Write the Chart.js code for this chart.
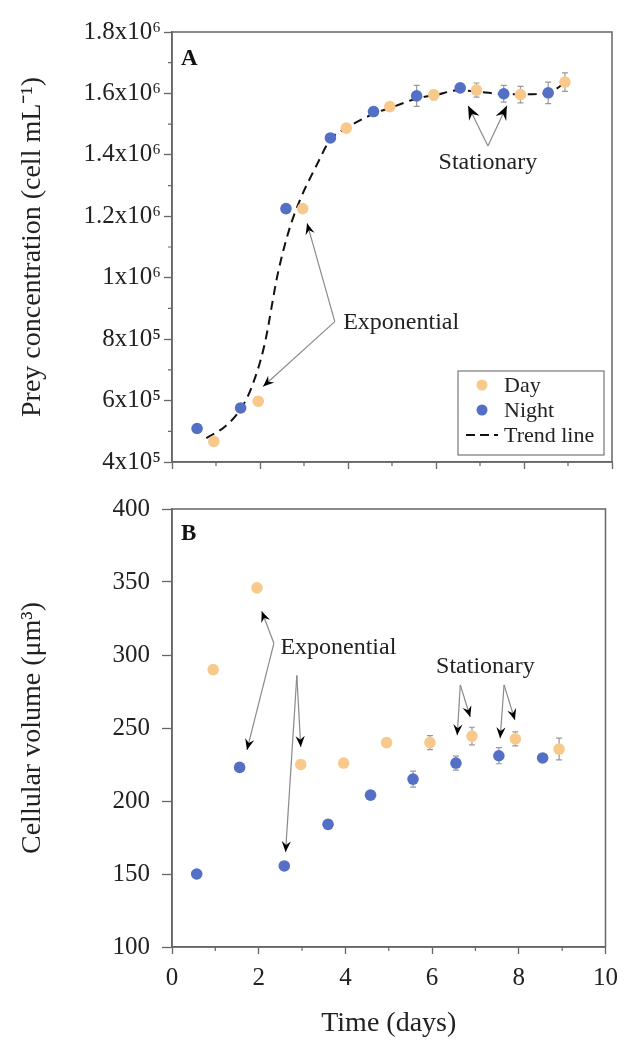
<!DOCTYPE html>
<html>
<head>
<meta charset="utf-8">
<script src="https://cdn.jsdelivr.net/npm/chart.js@4.4.0/dist/chart.umd.min.js"></script>
<style>
  html, body { margin: 0; padding: 0; background: #fff; }
  #wrap { position: relative; width: 627px; height: 1040px; }
  canvas { position: absolute; left: 0; }
  #chartA { top: 0; }
  #chartB { top: 480px; }
</style>
</head>
<body>
<div id="wrap">
  <canvas id="chartA" width="627" height="480"></canvas>
  <canvas id="chartB" width="627" height="560"></canvas>
</div>
<script>
// ---- data (time in days) ----
const dayTime   = [0.95, 1.96, 2.97, 3.96, 4.95, 5.95, 6.92, 7.92, 8.93];
const nightTime = [0.57, 1.56, 2.59, 3.60, 4.58, 5.56, 6.55, 7.54, 8.55];

// panel A: prey concentration (cell mL-1)
const preyDay      = [4.67e5, 5.98e5, 1.225e6, 1.487e6, 1.557e6, 1.595e6, 1.611e6, 1.596e6, 1.637e6];
const preyDayErr   = [0, 0, 0, 0, 0, 1.5e4, 2.3e4, 2.7e4, 3.0e4];
const preyNight    = [5.09e5, 5.76e5, 1.225e6, 1.455e6, 1.541e6, 1.592e6, 1.618e6, 1.599e6, 1.602e6];
const preyNightErr = [0, 0, 0, 0, 0, 3.4e4, 5e3, 2.7e4, 3.5e4];

// trend line
const trendTime = [0.78, 1.2, 1.55, 1.8, 2.1, 2.4, 2.65, 2.9, 3.3, 3.6, 4.0, 4.6, 5.0, 5.6, 6.0, 6.5, 7.0, 7.5, 8.0, 8.55, 8.95];
const trendPrey = [4.78e5, 5.15e5, 5.7e5, 6.4e5, 7.8e5, 1.01e6, 1.15e6, 1.25e6, 1.37e6, 1.45e6, 1.49e6, 1.535e6, 1.555e6, 1.585e6, 1.595e6, 1.61e6, 1.605e6, 1.598e6, 1.597e6, 1.602e6, 1.637e6];

// panel B: cellular volume (um3)
const volDay      = [290, 346, 225, 226, 240, 240, 244.5, 242.5, 235.6];
const volDayErr   = [0, 0, 0, 0, 2, 4.8, 6, 4.8, 7.5];
const volNight    = [150, 223, 155.5, 184, 204, 215, 226, 231, 229.5];
const volNightErr = [0, 0, 0, 0, 0, 5.5, 4.8, 5.5, 2];

// tick labels
const timeTicks = ["0", "2", "4", "6", "8", "10"];
const preyTicks = ["4x10\u2075", "6x10\u2075", "8x10\u2075", "1x10\u2076", "1.2x10\u2076", "1.4x10\u2076", "1.6x10\u2076", "1.8x10\u2076"];
const volTicks  = ["100", "150", "200", "250", "300", "350", "400"];

const DAY = "#F8C98A";
const NIGHT = "#5470C6";
const AXIS = "#666";
const INK = "#222";
const SERIF = "'Liberation Serif', 'Times New Roman', serif";

const pts = (xs, ys) => xs.map((x, i) => ({ x: x, y: ys[i] }));

// annotation text + arrows, in data units
const notesA = {
  letter: { text: "A", dx: 9, dy: 33 },
  labels: [
    { text: "Exponential", x: 3.89, y: 8.54e5, align: "left" },
    { text: "Stationary", x: 7.18, y: 1.375e6, align: "center" }
  ],
  arrows: [
    [3.7, 8.57e5, 3.07, 1.177e6, 11],
    [3.7, 8.57e5, 2.07, 6.46e5, 11],
    [7.18, 1.429e6, 6.73, 1.56e6, 14],
    [7.18, 1.429e6, 7.61, 1.56e6, 14]
  ]
};
const notesB = {
  letter: { text: "B", dx: 9, dy: 31 },
  labels: [
    { text: "Exponential", x: 2.5, y: 305, align: "left" },
    { text: "Stationary", x: 7.23, y: 292, align: "center" }
  ],
  arrows: [
    [2.35, 308, 2.07, 330, 11],
    [2.35, 308, 1.73, 235, 11],
    [2.88, 286, 2.97, 237, 11],
    [2.88, 286, 2.62, 165, 11],
    [6.65, 279.5, 6.58, 245, 11],
    [6.65, 279.5, 6.88, 257.5, 11],
    [7.66, 279.5, 7.57, 243, 11],
    [7.66, 279.5, 7.91, 255.5, 11]
  ]
};

function arrowHead(ctx, x1, y1, x2, y2, len) {
  const ang = Math.atan2(y2 - y1, x2 - x1);
  const half = len * 0.42;
  ctx.save();
  ctx.translate(x2, y2);
  ctx.rotate(ang);
  ctx.beginPath();
  ctx.moveTo(0, 0);
  ctx.lineTo(-len, -half);
  ctx.lineTo(-len * 0.65, 0);
  ctx.lineTo(-len, half);
  ctx.closePath();
  ctx.fillStyle = "#000";
  ctx.fill();
  ctx.restore();
}

const extras = {
  id: "extras",
  beforeDatasetsDraw(chart, args, opts) {
    const { ctx, scales: { x, y } } = chart;
    ctx.save();
    ctx.strokeStyle = "#999";
    ctx.lineWidth = 1.2;
    opts.errors.forEach(s => {
      s.x.forEach((xv, i) => {
        const e = s.err[i];
        if (!e) return;
        const px = x.getPixelForValue(xv);
        const y1 = y.getPixelForValue(s.y[i] + e);
        const y2 = y.getPixelForValue(s.y[i] - e);
        ctx.beginPath();
        ctx.moveTo(px, y1); ctx.lineTo(px, y2);
        ctx.moveTo(px - 3, y1); ctx.lineTo(px + 3, y1);
        ctx.moveTo(px - 3, y2); ctx.lineTo(px + 3, y2);
        ctx.stroke();
      });
    });
    ctx.restore();
  },
  afterDraw(chart, args, opts) {
    const { ctx, chartArea: a, scales: { x, y } } = chart;
    ctx.save();

    // frame
    ctx.strokeStyle = AXIS;
    ctx.lineWidth = 1.5;
    ctx.strokeRect(a.left, a.top, a.right - a.left, a.bottom - a.top);

    // minor ticks halfway between major ones
    ctx.lineWidth = 1.2;
    ctx.beginPath();
    for (let i = 0; i < x.ticks.length - 1; i++) {
      const px = x.getPixelForValue((x.ticks[i].value + x.ticks[i + 1].value) / 2);
      ctx.moveTo(px, a.bottom); ctx.lineTo(px, a.bottom + 4);
    }
    if (opts.minorY) {
      for (let i = 0; i < y.ticks.length - 1; i++) {
        const py = y.getPixelForValue((y.ticks[i].value + y.ticks[i + 1].value) / 2);
        ctx.moveTo(a.left - 4, py); ctx.lineTo(a.left, py);
      }
    }
    ctx.stroke();

    const n = opts.notes;
    // panel letter
    ctx.fillStyle = "#111";
    ctx.font = "bold 23px " + SERIF;
    ctx.textAlign = "left";
    ctx.textBaseline = "alphabetic";
    ctx.fillText(n.letter.text, a.left + n.letter.dx, a.top + n.letter.dy);

    // arrows
    ctx.strokeStyle = "#8a8a8a";
    ctx.lineWidth = 1.2;
    n.arrows.forEach(ar => {
      const x1 = x.getPixelForValue(ar[0]), y1 = y.getPixelForValue(ar[1]);
      const x2 = x.getPixelForValue(ar[2]), y2 = y.getPixelForValue(ar[3]);
      ctx.beginPath();
      ctx.moveTo(x1, y1); ctx.lineTo(x2, y2);
      ctx.stroke();
      arrowHead(ctx, x1, y1, x2, y2, ar[4]);
    });

    // labels
    ctx.fillStyle = INK;
    ctx.font = "24px " + SERIF;
    ctx.textBaseline = "middle";
    n.labels.forEach(l => {
      ctx.textAlign = l.align;
      ctx.fillText(l.text, x.getPixelForValue(l.x), y.getPixelForValue(l.y));
    });

    // legend box
    if (opts.legend) {
      const w = 146, h = 84;
      const bx = a.right - 8 - w, by = a.bottom - 7 - h;
      ctx.fillStyle = "#fff";
      ctx.fillRect(bx, by, w, h);
      ctx.strokeStyle = "#777";
      ctx.lineWidth = 1.2;
      ctx.strokeRect(bx, by, w, h);
      ctx.font = "22px " + SERIF;
      ctx.textAlign = "left";
      ctx.textBaseline = "middle";
      chart.data.datasets.forEach((ds, i) => {
        const cy = by + 14 + i * 25;
        if (ds.showLine) {
          ctx.save();
          ctx.strokeStyle = "#111";
          ctx.lineWidth = 2;
          ctx.setLineDash([9, 5]);
          ctx.beginPath();
          ctx.moveTo(bx + 8, cy); ctx.lineTo(bx + 40, cy);
          ctx.stroke();
          ctx.restore();
        } else {
          ctx.fillStyle = ds.backgroundColor;
          ctx.beginPath();
          ctx.arc(bx + 24, cy, 5.5, 0, Math.PI * 2);
          ctx.fill();
        }
        ctx.fillStyle = INK;
        ctx.fillText(ds.label, bx + 46, cy + 1);
      });
    }
    ctx.restore();
  }
};

function xScale(showLabels, height) {
  return {
    type: "linear", min: 0, max: 10,
    border: { color: AXIS, width: 1.5 },
    grid: { drawOnChartArea: false, drawTicks: true, tickLength: 7, tickColor: AXIS, tickWidth: 1.3 },
    ticks: {
      display: showLabels, stepSize: 2, padding: 9,
      color: INK, font: { family: SERIF, size: 25 },
      callback: (v, i) => timeTicks[i]
    },
    title: showLabels ? {
      display: true, text: "Time (days)", color: INK,
      font: { family: SERIF, size: 28, lineHeight: 1 }, padding: { top: 0, bottom: 2 }
    } : { display: false },
    afterFit: s => { s.height = height; }
  };
}

function baseOptions() {
  return {
    responsive: false,
    animation: false,
    devicePixelRatio: 1,
    events: [],
    plugins: { legend: { display: false }, tooltip: { enabled: false } }
  };
}

const optsA = baseOptions();
optsA.layout = { padding: { top: 32, right: 15, left: 0, bottom: 0 } };
optsA.plugins.extras = {
  errors: [
    { x: dayTime, y: preyDay, err: preyDayErr },
    { x: nightTime, y: preyNight, err: preyNightErr }
  ],
  notes: notesA, minorY: true, legend: true
};
optsA.scales = {
  x: xScale(false, 10),
  y: {
    type: "linear", min: 4e5, max: 1.8e6,
    border: { color: AXIS, width: 1.5 },
    grid: { drawOnChartArea: false, tickLength: 8, tickColor: AXIS, tickWidth: 1.3 },
    ticks: {
      stepSize: 2e5, padding: 3, color: INK, font: { family: SERIF, size: 25 },
      callback: (v, i) => preyTicks[i]
    },
    title: {
      display: true, text: "Prey concentration (cell mL\u207B\u00B9)", color: INK,
      font: { family: SERIF, size: 28, lineHeight: 1 }, padding: { top: 19, bottom: 0 }
    },
    afterFit: s => { s.width = 172; }
  }
};

new Chart(document.getElementById("chartA"), {
  type: "scatter",
  data: {
    datasets: [
      { label: "Day", data: pts(dayTime, preyDay), backgroundColor: DAY, pointRadius: 5.8, borderWidth: 0, order: 1 },
      { label: "Night", data: pts(nightTime, preyNight), backgroundColor: NIGHT, pointRadius: 5.8, borderWidth: 0, order: 1 },
      { label: "Trend line", data: pts(trendTime, trendPrey), showLine: true, borderColor: "#111", borderWidth: 2,
        borderDash: [9, 6], pointRadius: 0, cubicInterpolationMode: "monotone", order: 3 }
    ]
  },
  options: optsA,
  plugins: [extras]
});

const optsB = baseOptions();
optsB.layout = { padding: { top: 29, right: 15, left: 0, bottom: 0 } };
optsB.plugins.extras = {
  errors: [
    { x: dayTime, y: volDay, err: volDayErr },
    { x: nightTime, y: volNight, err: volNightErr }
  ],
  notes: notesB, minorY: false, legend: false
};
optsB.scales = {
  x: xScale(true, 93),
  y: {
    type: "linear", min: 100, max: 400,
    border: { color: AXIS, width: 1.5 },
    grid: { drawOnChartArea: false, tickLength: 10, tickColor: AXIS, tickWidth: 1.3 },
    ticks: {
      stepSize: 50, padding: 12, color: INK, font: { family: SERIF, size: 25 },
      callback: (v, i) => volTicks[i]
    },
    title: {
      display: true, text: "Cellular volume (\u03BCm\u00B3)", color: INK,
      font: { family: SERIF, size: 28, lineHeight: 1 }, padding: { top: 19, bottom: 0 }
    },
    afterFit: s => { s.width = 172; }
  }
};

new Chart(document.getElementById("chartB"), {
  type: "scatter",
  data: {
    datasets: [
      { label: "Day", data: pts(dayTime, volDay), backgroundColor: DAY, pointRadius: 5.8, borderWidth: 0 },
      { label: "Night", data: pts(nightTime, volNight), backgroundColor: NIGHT, pointRadius: 5.8, borderWidth: 0 }
    ]
  },
  options: optsB,
  plugins: [extras]
});
</script>
</body>
</html>
